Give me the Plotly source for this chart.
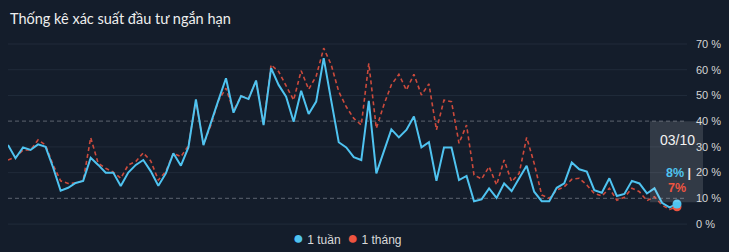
import plotly.graph_objects as go

title_text = "Thống kê xác suất đầu tư ngắn hạn"
series_names = ["1 tuần", "1 tháng"]
last_label = "03/10"

week = [30.7, 25.6, 29.8, 28.8, 31.0, 30.0, 22.0, 13.0, 14.1, 16.0,
        16.8, 25.8, 23.0, 20.0, 20.0, 14.8, 20.0, 23.0, 24.9, 20.5,
        14.9, 19.7, 27.5, 22.7, 29.8, 48.5, 30.7, 39.8, 48.2, 56.7,
        43.3, 49.8, 48.6, 55.8, 38.5, 60.6, 54.1, 49.5, 39.8, 51.8,
        42.8, 47.6, 64.5, 48.0, 31.8, 29.8, 26.0, 24.9, 47.9, 19.7,
        28.1, 36.8, 33.7, 36.6, 41.8, 29.8, 31.8, 16.8, 29.8, 29.8,
        17.1, 18.7, 8.9, 9.6, 13.9, 10.2, 15.8, 12.8, 17.8, 22.7,
        12.6, 8.9, 8.9, 14.1, 15.8, 23.9, 21.3, 20.4, 13.2, 12.2,
        17.8, 10.9, 11.7, 16.8, 15.8, 11.9, 13.9, 8.3, 6.5, 7.8]

month = [24.9, 26.0, 28.8, 28.8, 32.7, 30.7, 23.0, 16.8, 15.8, 16.0,
         16.8, 33.6, 23.6, 21.7, 20.2, 17.8, 23.0, 24.3, 27.7, 24.5,
         17.1, 20.5, 27.5, 26.2, 30.5, 48.0, 31.0, 38.5, 48.0, 52.8,
         44.0, 49.8, 48.8, 55.8, 39.0, 61.9, 59.3, 54.0, 48.2, 59.6,
         52.4, 57.5, 68.4, 61.9, 51.5, 45.6, 41.1, 38.5, 62.5, 37.2,
         46.3, 54.1, 58.2, 52.1, 58.2, 50.2, 54.5, 36.6, 48.2, 47.6,
         31.4, 38.5, 19.1, 17.5, 22.3, 15.2, 24.9, 16.5, 19.7, 33.7,
         23.6, 11.3, 10.0, 13.2, 14.5, 17.4, 17.8, 15.2, 11.9, 10.9,
         13.9, 9.3, 10.4, 13.9, 12.6, 9.1, 10.6, 7.4, 5.7, 6.7]

y_ticks = [0, 10, 20, 30, 40, 50, 60, 70]
y_tick_text = [f"{t} %" for t in y_ticks]
dashed_ticks = [10, 40]

BG = "#141d2b"
BLUE = "#4fc3f0"
RED_LINE = "#cc4a3c"
RED = "#ee5440"

x = list(range(len(week)))
x_range = [0, (len(week) - 1) * 679 / 669]
y_range = [-2.3, 73.5]

fig = go.Figure()
fig.add_trace(go.Scatter(x=x, y=month, mode="lines",
                         line=dict(color=RED_LINE, width=1.6, dash="4px,3px"),
                         showlegend=False, hoverinfo="skip"))
fig.add_trace(go.Scatter(x=x, y=week, mode="lines",
                         line=dict(color=BLUE, width=2),
                         showlegend=False, hoverinfo="skip"))
fig.add_trace(go.Scatter(x=[x[-1]], y=[month[-1]], mode="markers",
                         marker=dict(color=RED, size=9), showlegend=False, hoverinfo="skip"))
fig.add_trace(go.Scatter(x=[x[-1]], y=[week[-1]], mode="markers",
                         marker=dict(color=BLUE, size=9), showlegend=False, hoverinfo="skip"))

shapes = []
for t in y_ticks:
    if t in dashed_ticks:
        shapes.append(dict(type="line", xref="paper", yref="y", x0=0, x1=1, y0=t, y1=t,
                           line=dict(color="#4d5562", width=1.2, dash="4px,3px"), layer="below"))
    else:
        shapes.append(dict(type="line", xref="paper", yref="y", x0=0, x1=1, y0=t, y1=t,
                           line=dict(color="#212b3a", width=1), layer="below"))


def xp(v):
    return (v - x_range[0]) / (x_range[1] - x_range[0])


last_p = xp(x[-1])
shapes.append(dict(type="rect", xref="paper", yref="y",
                   x0=last_p - 27 / 679, x1=last_p + 26 / 679, y0=8.5, y1=40.0,
                   fillcolor="rgba(255,255,255,0.13)", line=dict(width=0), layer="above"))

FONT = "Liberation Sans, Arial"
annotations = [
    dict(text=last_label, xref="x", yref="y", x=x[-1], y=32.7, showarrow=False,
         font=dict(family=FONT, size=14, color="#f2f2f2")),
    dict(text=f"<span style='color:{BLUE}'><b>{round(week[-1])}%</b></span> <b>|</b>",
         xref="x", yref="y", x=x[-1] + 0.2, y=19.9, showarrow=False,
         font=dict(family=FONT, size=12.5, color="#e8e8e8")),
    dict(text=f"<b>{round(month[-1])}%</b>", xref="x", yref="y", x=x[-1], y=14.1,
         showarrow=False, font=dict(family=FONT, size=12.5, color=RED)),
    # legend
    dict(text=(f"<span style='color:{BLUE};font-size:18px'>●</span> {series_names[0]}"
               f"  <span style='color:{RED};font-size:18px'>●</span> {series_names[1]}"),
         xref="paper", yref="paper", x=(347 - 8) / 679, y=(230 - 238) / 195,
         xanchor="center", yanchor="middle", showarrow=False,
         font=dict(family=FONT, size=12, color="#d9d9d9")),
]

fig.update_layout(
    width=729, height=252,
    paper_bgcolor=BG, plot_bgcolor=BG,
    margin=dict(l=8, r=42, t=35, b=22, autoexpand=False),
    title=dict(text=title_text, xref="container", yref="container", x=10 / 729, xanchor="left",
               y=1 - 19 / 252, yanchor="middle",
               font=dict(family="Lato", size=14.5, color="#eeeeee")),
    xaxis=dict(range=x_range, visible=False, showgrid=False, zeroline=False),
    yaxis=dict(range=y_range, side="right", tickvals=y_ticks, ticktext=y_tick_text,
               showgrid=False, zeroline=False, showline=False, ticks="",
               ticklabelstandoff=8,
               tickfont=dict(family=FONT, size=11, color="#d5d5d5")),
    showlegend=False,
    shapes=shapes,
    annotations=annotations,
)

fig.write_html("out.html")
